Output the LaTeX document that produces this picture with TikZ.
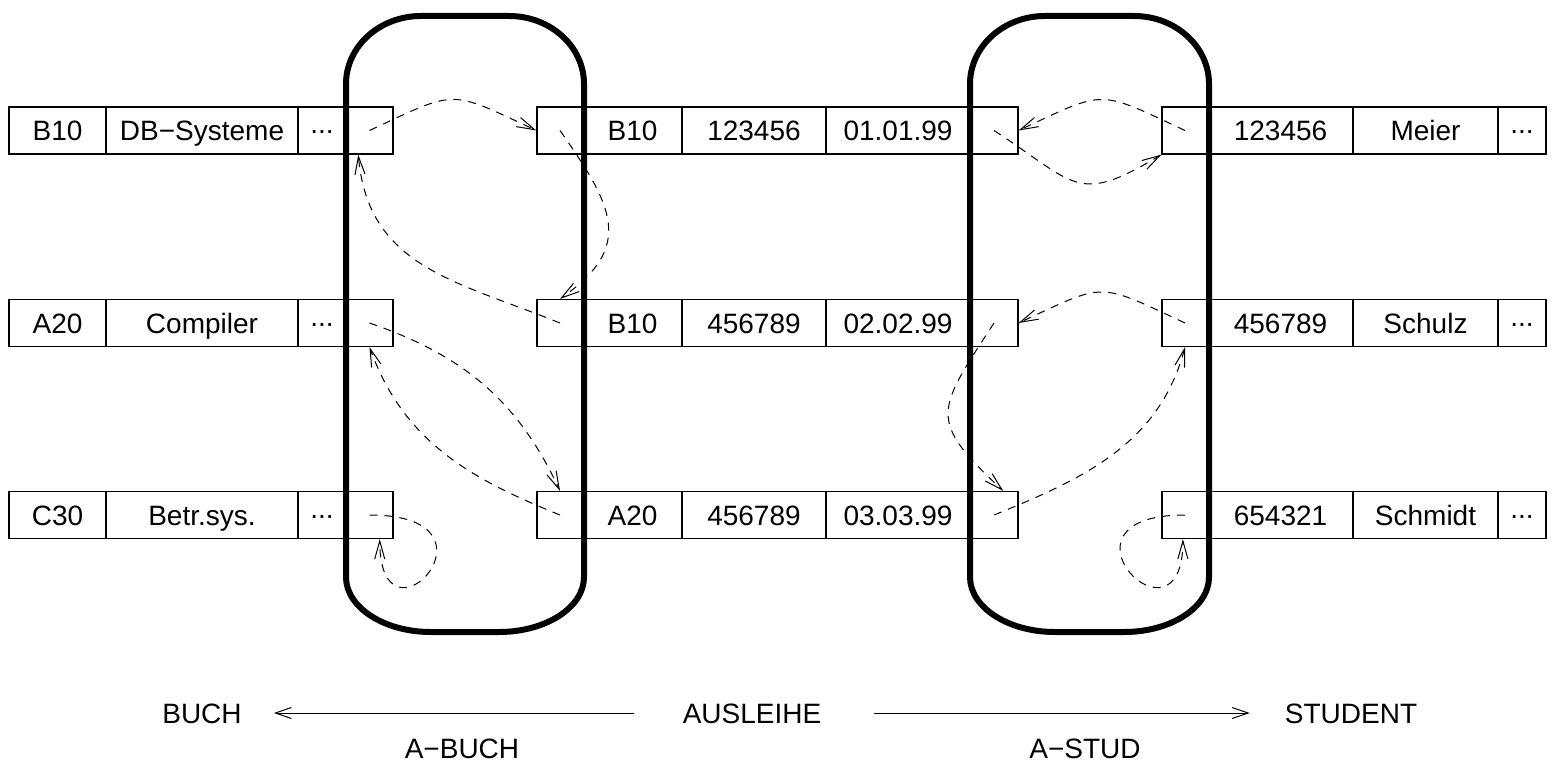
\documentclass[tikz,border=0pt]{standalone}
\usepackage{fontspec}
\setmainfont{Liberation Sans}
\usetikzlibrary{arrows.meta}
\newcommand{\celldots}{\raisebox{7pt}{...}}

\begin{document}
\begin{tikzpicture}[x=1pt, y=-1pt,
		every node/.style={font=\fontsize{28}{34}\selectfont},
		cell/.style={draw, line width=1.2pt, inner sep=0pt, minimum height=47pt, text height=20pt, text depth=0pt},
		txt/.style={inner sep=0pt, text height=20pt, text depth=0pt},
		link/.style={line width=1pt, dash pattern=on 8pt off 7pt, -{Straight Barb[length=18pt,width=10pt]}},
		relarrow/.style={line width=1pt, -{Straight Barb[length=16pt,width=11pt]}},
		capsule/.style={line width=6pt}]
			\useasboundingbox (0,0) rectangle (1552,770);
			%buch
			\node[cell, minimum width=97pt] (b1id) at (57.5,130.5) {B10};
			\node[cell, minimum width=192pt] (b1title) at (202,130.5) {DB−Systeme};
			\node[cell, minimum width=48pt] (b1dots) at (322,130.5) {\celldots};
			\node[cell, minimum width=47pt] (b1ptr) at (369.5,130.5) {};
			\node[cell, minimum width=97pt] (b2id) at (57.5,323) {A20};
			\node[cell, minimum width=192pt] (b2title) at (202,323) {Compiler};
			\node[cell, minimum width=48pt] (b2dots) at (322,323) {\celldots};
			\node[cell, minimum width=47pt] (b2ptr) at (369.5,323) {};
			\node[cell, minimum width=97pt] (b3id) at (57.5,515) {C30};
			\node[cell, minimum width=192pt] (b3title) at (202,515) {Betr.sys.};
			\node[cell, minimum width=48pt] (b3dots) at (322,515) {\celldots};
			\node[cell, minimum width=47pt] (b3ptr) at (369.5,515) {};
			%ausleihe
			\node[cell, minimum width=46pt] (a1l) at (560,130.5) {};
			\node[cell, minimum width=99pt] (a1id) at (632.5,130.5) {B10};
			\node[cell, minimum width=144pt] (a1nr) at (754,130.5) {123456};
			\node[cell, minimum width=144pt] (a1date) at (898,130.5) {01.01.99};
			\node[cell, minimum width=48pt] (a1r) at (994,130.5) {};
			\node[cell, minimum width=46pt] (a2l) at (560,323) {};
			\node[cell, minimum width=99pt] (a2id) at (632.5,323) {B10};
			\node[cell, minimum width=144pt] (a2nr) at (754,323) {456789};
			\node[cell, minimum width=144pt] (a2date) at (898,323) {02.02.99};
			\node[cell, minimum width=48pt] (a2r) at (994,323) {};
			\node[cell, minimum width=46pt] (a3l) at (560,515) {};
			\node[cell, minimum width=99pt] (a3id) at (632.5,515) {A20};
			\node[cell, minimum width=144pt] (a3nr) at (754,515) {456789};
			\node[cell, minimum width=144pt] (a3date) at (898,515) {03.03.99};
			\node[cell, minimum width=48pt] (a3r) at (994,515) {};
			%student
			\node[cell, minimum width=46pt] (s1ptr) at (1185,130.5) {};
			\node[cell, minimum width=145pt] (s1nr) at (1280.5,130.5) {123456};
			\node[cell, minimum width=145pt] (s1name) at (1425.5,130.5) {Meier};
			\node[cell, minimum width=48pt] (s1dots) at (1522,130.5) {\celldots};
			\node[cell, minimum width=46pt] (s2ptr) at (1185,323) {};
			\node[cell, minimum width=145pt] (s2nr) at (1280.5,323) {456789};
			\node[cell, minimum width=145pt] (s2name) at (1425.5,323) {Schulz};
			\node[cell, minimum width=48pt] (s2dots) at (1522,323) {\celldots};
			\node[cell, minimum width=46pt] (s3ptr) at (1185,515) {};
			\node[cell, minimum width=145pt] (s3nr) at (1280.5,515) {654321};
			\node[cell, minimum width=145pt] (s3name) at (1425.5,515) {Schmidt};
			\node[cell, minimum width=48pt] (s3dots) at (1522,515) {\celldots};
			%access paths
			\draw[capsule] (346,84) arc[start angle=180, end angle=90, x radius=75pt, y radius=68pt] -- (509,16) arc[start angle=90, end angle=0, x radius=75pt, y radius=68pt] -- (584,577) arc[start angle=0, end angle=-90, x radius=85pt, y radius=55pt] -- (431,632) arc[start angle=270, end angle=180, x radius=85pt, y radius=55pt] -- cycle;
			\draw[capsule] (970,84) arc[start angle=180, end angle=90, x radius=75pt, y radius=68pt] -- (1134,16) arc[start angle=90, end angle=0, x radius=75pt, y radius=68pt] -- (1209,577) arc[start angle=0, end angle=-90, x radius=85pt, y radius=55pt] -- (1055,632) arc[start angle=270, end angle=180, x radius=85pt, y radius=55pt] -- cycle;
			%links a-buch
			\draw[link] (b1ptr.center) to[out=25, in=155, looseness=1.5] (a1l.west);
			\draw[link] (a1l.center) to[out=-55, in=35, looseness=1.4] (a2l.north);
			\draw[link] (a2l.center) to[out=158, in=-85, looseness=1.1] (b1ptr.245);
			\draw[link] (b2ptr.center) to[out=-19, in=115] (a3l.north);
			\draw[link] (a3l.center) to[out=158, in=-70] (b2ptr.south);
			\draw[link] (b3ptr.center) .. controls +(145,0) and +(0,120) .. (b3ptr.293);
			%links a-stud
			\draw[link] (s1ptr.center) to[out=155, in=25, looseness=1.5] (a1r.east);
			\draw[link] (a1r.center) to[out=-33, in=-149, looseness=1.5] (s1ptr.south west);
			\draw[link] (s2ptr.center) to[out=155, in=25, looseness=1.5] (a2r.east);
			\draw[link] (a2r.center) to[out=-123, in=137, looseness=1.6] (a3r.69);
			\draw[link] (a3r.center) to[out=22, in=-105] (s2ptr.south);
			\draw[link] (s3ptr.center) .. controls +(-145,0) and +(0,120) .. (s3ptr.265);
			%relations below
			\node[txt] (buch) at (202,713) {BUCH};
			\node[txt] (ausleihe) at (752,713) {AUSLEIHE};
			\node[txt] (student) at (1351,713) {STUDENT};
			\node[txt] (abuch) at (462,748) {A−BUCH};
			\node[txt] (astud) at (1085,748) {A−STUD};
			\draw[relarrow, shorten <=49pt, shorten >=32pt] (ausleihe.west) -- (buch.east);
			\draw[relarrow, shorten <=53pt, shorten >=35pt] (ausleihe.east) -- (student.west);
		\end{tikzpicture}
\end{document}
